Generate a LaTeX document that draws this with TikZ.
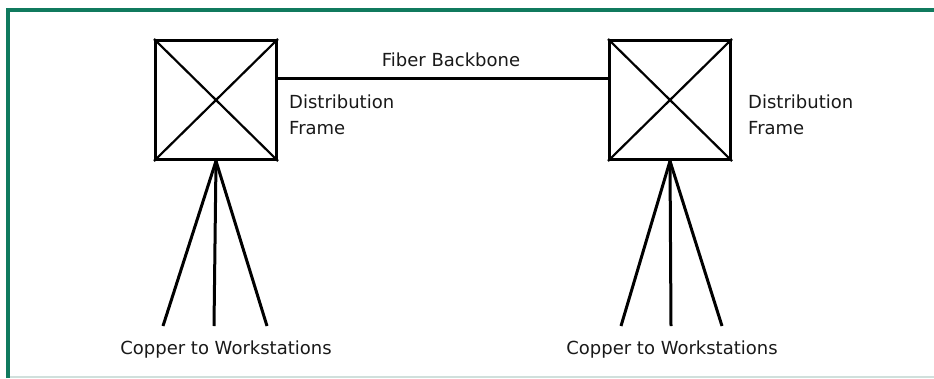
\documentclass[tikz,border=0pt]{standalone}
\usepackage{fontspec}
\setmainfont{DejaVu Sans}
\definecolor{framegreen}{RGB}{16,122,94}
\definecolor{faintline}{RGB}{208,224,220}
\begin{document}
\begin{tikzpicture}[x=1pt,y=-1pt,
  lbl/.style={font=\fontsize{18}{26}\selectfont, text=black!90, inner sep=0pt},
  wire/.style={line width=3pt, black},
  xbox/.style={draw, line width=3pt, minimum width=121pt, minimum height=119pt, inner sep=0pt}]
\useasboundingbox (0,0) rectangle (934,378);
\fill[white] (0,0) rectangle (934,378);
% outer frame
\draw[faintline, line width=1.5pt] (9,377) -- (934,377);
\draw[framegreen, line width=4pt] (7.5,378) -- (7.5,9.5) -- (934,9.5);
% boxes
\node[xbox] (L) at (216,100) {};
\node[xbox] (R) at (670,100) {};
\draw[wire, line width=2.2pt] (L.north west) -- (L.south east);
\draw[wire, line width=2.2pt] (L.north east) -- (L.south west);
\draw[wire, line width=2.2pt] (R.north west) -- (R.south east);
\draw[wire, line width=2.2pt] (R.north east) -- (R.south west);
% fiber backbone
\coordinate (La) at (L.east |- 0,78);
\coordinate (Ra) at (R.west |- 0,78);
\draw[wire] (La) -- (Ra);
\node[lbl] (fb) at (451,60) {Fiber Backbone};
% labels
\node[lbl, anchor=west, align=left] (dl) at (289,115) {Distribution\\Frame};
\node[lbl, anchor=west, align=left] (dr) at (748,115) {Distribution\\Frame};
% fans
\coordinate (l1) at (163,326); \coordinate (l2) at (214,326); \coordinate (l3) at (267,326);
\coordinate (r1) at (621,326); \coordinate (r2) at (671,326); \coordinate (r3) at (722,326);
\draw[wire] (L.south) -- (l1); \draw[wire] (L.south) -- (l2); \draw[wire] (L.south) -- (l3);
\draw[wire] (R.south) -- (r1); \draw[wire] (R.south) -- (r2); \draw[wire] (R.south) -- (r3);
\node[lbl] (cl) at (226,350) {Copper to Workstations};
\node[lbl] (cr) at (672,350) {Copper to Workstations};
\end{tikzpicture}
\end{document}
